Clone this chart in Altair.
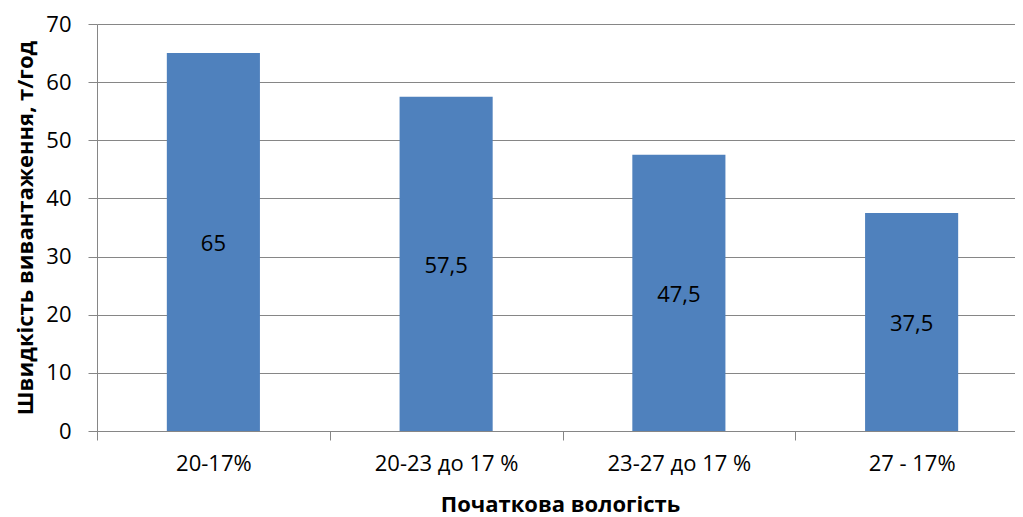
import altair as alt
import pandas as pd

categories = ["20-17%", "20-23 до 17 %", "23-27 до 17 %", "27 - 17%"]
values = [65, 57.5, 47.5, 37.5]
labels = [("%g" % v).replace(".", ",") for v in values]

df = pd.DataFrame({"cat": categories, "v": values, "lab": labels})

FONT = "Open Sans"
GRAY = "#868686"

xscale = alt.Scale(paddingInner=0, paddingOuter=0, range=[0, 931])

x = alt.X("cat:N", sort=categories, scale=xscale,
          axis=alt.Axis(title="Початкова вологість", labelAngle=0,
                        tickBand="extent", tickSize=9, labelPadding=13,
                        titlePadding=20, titleFontWeight="bold",
                        titleX=463))

bars = alt.Chart(df).mark_bar(color="#4F81BD", width=alt.RelativeBandSize(0.4)).encode(
    x=x,
    y=alt.Y("v:Q", scale=alt.Scale(domain=[0, 70]),
            axis=alt.Axis(title="Швидкість вивантаження, т/год",
                          values=[0, 10, 20, 30, 40, 50, 60, 70],
                          tickSize=9, labelPadding=17, titlePadding=8,
                          titleFontWeight="bold", titleFontSize=22)),
)

text = alt.Chart(df).transform_calculate(mid="datum.v / 2").mark_text(
    fontSize=22, font=FONT, color="black", baseline="middle", align="center", dy=2
).encode(
    x=alt.X("cat:N", sort=categories, scale=xscale),
    y=alt.Y("mid:Q"),
    text="lab:N",
)

chart = alt.layer(bars, text).properties(
    width=918, height=407,
    autosize=alt.AutoSizeParams(type="none"),
    padding={"left": 89, "top": 16, "right": 0, "bottom": 86},
).configure_view(stroke=None).configure_axis(
    labelFont=FONT, titleFont=FONT, labelFontSize=22, titleFontSize=22,
    labelColor="black", titleColor="black",
    domainColor=GRAY, tickColor=GRAY, gridColor=GRAY, gridOpacity=1,
).configure_axisX(grid=False).configure_axisY(grid=True)

chart.save("out.html", embed_options={"renderer": "svg", "actions": False})
